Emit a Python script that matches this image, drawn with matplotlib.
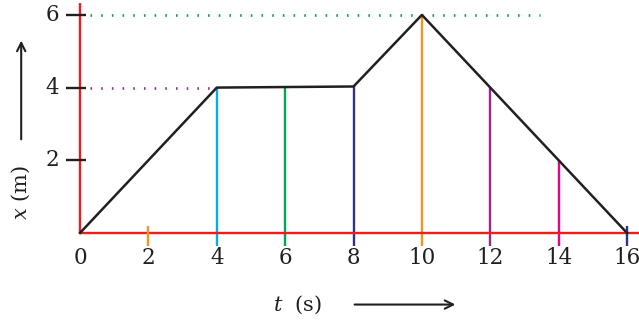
import matplotlib.pyplot as plt

plt.rcParams['font.family'] = 'DejaVu Serif'
plt.rcParams['mathtext.fontset'] = 'dejavuserif'

# Position-time data
t_pts = [0, 4, 8, 10, 16]
x_pts = [0, 4, 4.03, 6, 0]

# Vertical drop lines from the curve to the time axis
drop_t = [4, 6, 8, 10, 12, 14]
drop_x = [4, 4, 4.03, 6, 4, 2]
drop_colors = ['#00aeef', '#00a651', '#2e3192', '#f7941d', '#a3238e', '#ec008c']

# Small ticks on the time axis
tick_t = [2, 16]
tick_colors = ['#f7941d', '#2e3192']

x_ticks = [0, 2, 4, 6, 8, 10, 12, 14, 16]
y_ticks = [2, 4, 6]

red = '#ed1c24'
ink = '#231f20'

fig = plt.figure(figsize=(6.39, 3.22), dpi=100)
ax = fig.add_axes([0, 0, 1, 1])
ax.set_xlim(-2.34, 16.35)
ax.set_ylim(-2.45, 6.41)
ax.axis('off')

# Axes lines
ax.plot([0, 0], [0, 6.33], color=red, lw=1.7, solid_capstyle='butt', zorder=3)
ax.plot([0, 16.4], [0, 0], color=red, lw=1.7, solid_capstyle='butt', zorder=3)

# Dotted guides
ax.plot([0.3, 13.45], [6, 6], color='#00a651', lw=1.9, linestyle=(0, (0.6, 3.45)), zorder=2)
ax.plot([0.3, 3.9], [4, 4], color='#a3238e', lw=1.9, linestyle=(0, (0.6, 3.45)), zorder=2)

# Drop lines
for t, x, c in zip(drop_t, drop_x, drop_colors):
    ax.plot([t, t], [-0.36, x], color=c, lw=1.7, solid_capstyle='butt', zorder=2)
for t, c in zip(tick_t, tick_colors):
    ax.plot([t, t], [-0.36, 0.19], color=c, lw=1.7, solid_capstyle='butt', zorder=4)

# Curve
ax.plot(t_pts, x_pts, color=ink, lw=1.8, zorder=5)

# Y ticks and labels
for y in y_ticks:
    ax.plot([-0.41, 0.18], [y, y], color=ink, lw=1.7, solid_capstyle='butt', zorder=4)
    ax.text(-0.6, y, str(y), ha='right', va='center', fontsize=15.5, color=ink)

# X labels
for t in x_ticks:
    ax.text(t, -0.7, str(t), ha='center', va='center', fontsize=15.5, color=ink)

# Axis titles with arrows
ax.text(-1.72, 1.1, r'$x$ (m)', rotation=90, ha='center', va='center',
        fontsize=15, color=ink)
ax.annotate('', xy=(-1.72, 5.37), xytext=(-1.72, 2.5),
            arrowprops=dict(arrowstyle='->,head_length=0.6,head_width=0.3',
                            color=ink, lw=1.5))
ax.text(6.35, -1.97, r'$t$  (s)', ha='center', va='center', fontsize=15, color=ink)
ax.annotate('', xy=(11.06, -1.97), xytext=(7.95, -1.97),
            arrowprops=dict(arrowstyle='->,head_length=0.6,head_width=0.3',
                            color=ink, lw=1.5))

fig.savefig('out.png', dpi=100)
